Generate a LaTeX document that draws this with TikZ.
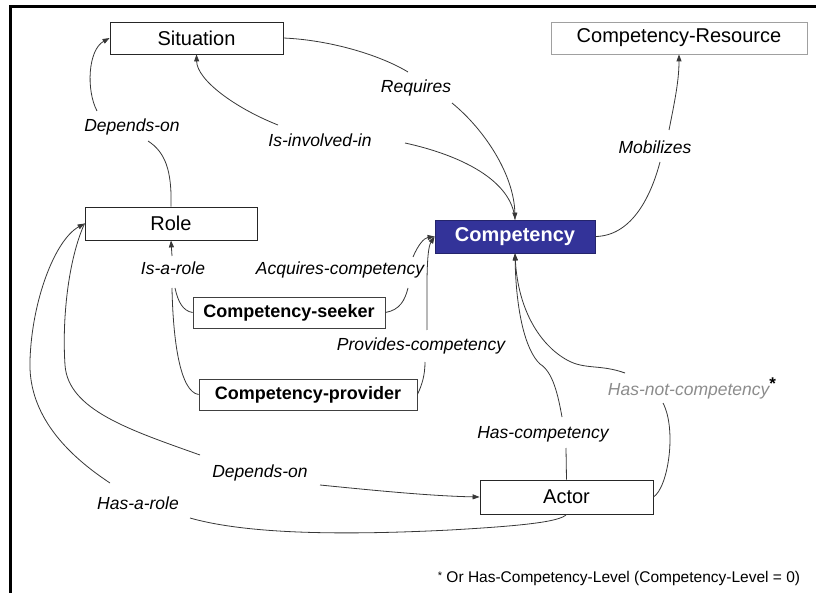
\documentclass[tikz,border=0pt]{standalone}
\usepackage{fontspec}
\setmainfont{Liberation Sans}
\usetikzlibrary{arrows.meta}
\definecolor{navy}{RGB}{51,51,153}
\definecolor{lnk}{RGB}{55,55,55}
\definecolor{lblgrey}{RGB}{140,140,140}
\definecolor{boxgrey}{RGB}{160,160,160}
\begin{document}
\begin{tikzpicture}[x=1pt,y=-1pt,
  box/.style={draw=black!85,line width=0.8pt,inner sep=0pt,font=\fontsize{20}{24}\selectfont},
  bbox/.style={draw=black!75,line width=0.8pt,inner sep=0pt,font=\fontsize{18}{22}\selectfont\bfseries},
  lbl/.style={inner sep=1pt,font=\fontsize{17.5}{21}\selectfont\itshape},
  link/.style={draw=lnk,line width=0.8pt},
  arr/.style={link,-{Triangle[length=7pt,width=5pt]}},
  frame/.style={draw=black,line width=3pt}
]
\useasboundingbox (0,0) rectangle (816,593);
% frame
\coordinate (fr1) at (816,7);
\coordinate (fr2) at (10,7);
\coordinate (fr3) at (10,593);
\draw[frame] (fr1) -- (fr2) -- (fr3);

% boxes
\node[box,minimum width=173pt,minimum height=32pt] (sit) at (196.5,38) {Situation};
\node[box,draw=boxgrey,minimum width=256pt,minimum height=32pt] (res) at (679,38) {Competency-Resource};
\node[box,minimum width=172pt,minimum height=33pt] (role) at (171,223.5) {Role};
\node[box,fill=navy,draw=navy!70!black,text=white,font=\fontsize{20}{24}\selectfont\bfseries,minimum width=160pt,minimum height=33pt] (comp) at (515,236.5) {Competency};
\node[bbox,minimum width=192pt,minimum height=31pt] (seek) at (289,312.5) {Competency-seeker};
\node[bbox,minimum width=218pt,minimum height=31pt] (prov) at (308,394.5) {Competency-provider};
\node[box,minimum width=173pt,minimum height=34pt] (actor) at (566.5,497) {Actor};

% labels
\node[lbl] (ldep1) at (132,127) {Depends-on};
\node[lbl] (linv) at (320,140) {Is-involved-in};
\node[lbl] (lreq) at (416,88) {Requires};
\node[lbl] (lmob) at (655,147) {Mobilizes};
\node[lbl] (lisa) at (173,268) {Is-a-role};
\node[lbl] (lacq) at (340,270) {Acquires-competency};
\node[lbl] (lprov) at (421,346) {Provides-competency};
\node[lbl] (ldep2) at (260,473) {Depends-on};
\node[lbl] (lhas) at (138,503) {Has-a-role};
\node[lbl] (lhc) at (543,434) {Has-competency};
\node[lbl,text=lblgrey] (lhnc) at (692,388) {Has-not-competency\textcolor{black}{\upshape\bfseries\raisebox{6pt}{\fontsize{17}{17}\selectfont *}}};
\node[inner sep=0pt,font=\fontsize{15.5}{18}\selectfont] (foot) at (619,578) {\raisebox{3pt}{\fontsize{11}{11}\selectfont *} Or Has-Competency-Level (Competency-Level = 0)};

% Depends-on (Role -> Situation)
\draw[link] (role.north) .. controls (172,170) and (165,152) .. (148,141);
\draw[arr] (97,111) .. controls (86,90) and (88,50) .. (sit.west);

% Is-involved-in (Competency -> Situation)
\draw[arr] (278,125) .. controls (235,108) and (197,80) .. (sit.south);
\draw[link] (405,143) .. controls (460,155) and (512,180) .. (comp.north);

% Requires (Situation -> Competency)
\draw[link] (sit.east) .. controls (330,40) and (380,55) .. (408,72);
\draw[arr] (452,103) .. controls (485,130) and (514,175) .. (comp.north);

% Mobilizes
\draw[link] (comp.east) .. controls (630,236) and (650,200) .. (660,162);
\draw[arr] (669,130) .. controls (675,100) and (679,80) .. (res.south);

% Acquires-competency
\draw[link] (seek.east) .. controls (400,310) and (405,300) .. (408,288);
\draw[arr] (413,257) .. controls (418,245) and (424,238) .. (comp.west);

% Provides-competency
\draw[link] (prov.east) .. controls (422,385) and (425,375) .. (425,362);
\draw[arr] (427,330) .. controls (427,290) and (426,250) .. (comp.west);

% Is-a-role
\draw[arr] (172,256) -- (role.south);
\draw[link] (175,288) .. controls (178,302) and (183,311) .. (seek.west);
\draw[link] (172,288) .. controls (173,340) and (180,392) .. (prov.west);

% Depends-on (Role -> Actor)
\draw[link] (role.west) .. controls (68,260) and (62,320) .. (65,365) .. controls (68,410) and (130,430) .. (200,455);
\draw[arr] (320,485) .. controls (370,490) and (430,496) .. (actor.west);

% Has-a-role (Actor -> Role)
\draw[arr] (110,483) .. controls (60,450) and (28,410) .. (30,360) .. controls (32,300) and (55,240) .. (role.west);
\draw[link] (190,518) .. controls (250,535) and (350,535) .. (450,530) .. controls (520,526) and (560,522) .. (actor.south);

% Has-competency
\draw[link] (actor.north) -- (566,448);
\draw[arr] (562,417) .. controls (558,395) and (553,372) .. (540,364) .. controls (525,350) and (516,310) .. (comp.south);

% Has-not-competency
\draw[link] (actor.east) .. controls (668,488) and (677,430) .. (663,403);
\draw[arr] (625,373) .. controls (600,364) and (585,370) .. (567,360) .. controls (540,345) and (518,310) .. (comp.south);
\end{tikzpicture}
\end{document}
